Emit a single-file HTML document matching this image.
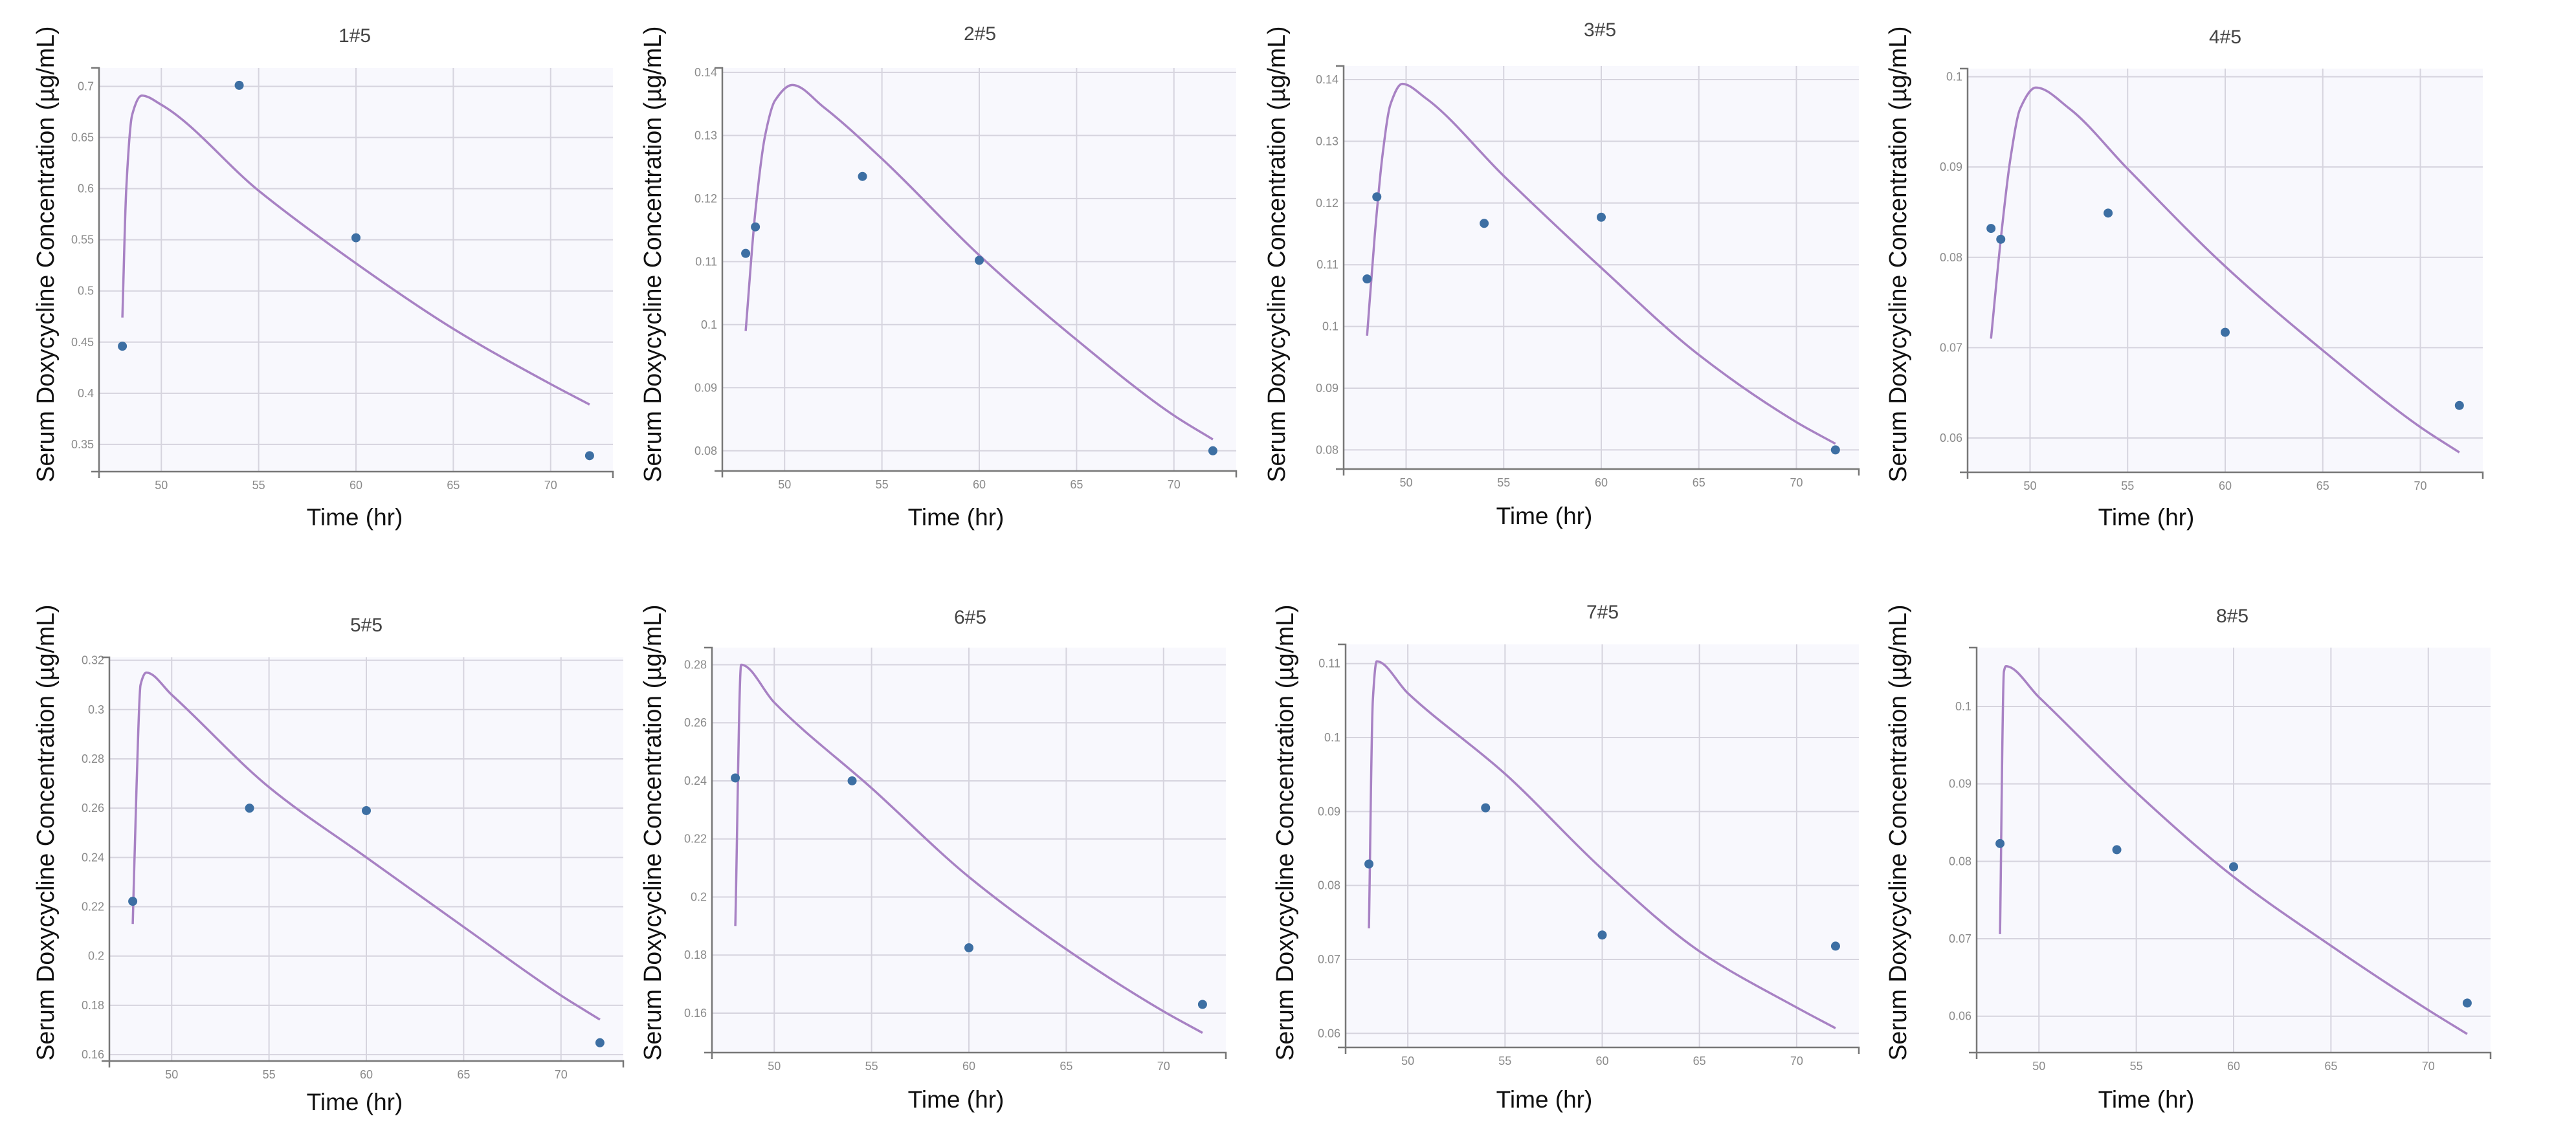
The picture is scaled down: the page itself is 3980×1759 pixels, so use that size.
<!DOCTYPE html>
<html><head><meta charset="utf-8"><style>
html,body{margin:0;padding:0;background:#fff;}
svg{display:block;}
text{font-family:"Liberation Sans",sans-serif;}
</style></head><body>
<svg id="fig" width="3980" height="1759" viewBox="0 0 3980 1759" xmlns="http://www.w3.org/2000/svg"></svg>
<script>
const xTicks = [50, 55, 60, 65, 70];
const xDomain = [46.8, 73.2];

const p1ObsT = [48, 54, 60, 72];
const p1ObsC = [0.446, 0.701, 0.552, 0.339];
const p1CurT = [48, 48.2, 48.5, 49, 50, 55, 60, 65, 70, 72];
const p1CurC = [0.474, 0.6, 0.672, 0.691, 0.682, 0.598, 0.527, 0.463, 0.409, 0.389];
const p1YTicks = [0.35, 0.4, 0.45, 0.5, 0.55, 0.6, 0.65, 0.7];

const p2ObsT = [48, 48.5, 54, 60, 72];
const p2ObsC = [0.1113, 0.1155, 0.1235, 0.1102, 0.08];
const p2CurT = [48, 48.5, 49, 49.5, 50.4, 52, 55, 60, 65, 70, 72];
const p2CurC = [0.099, 0.118, 0.130, 0.1355, 0.138, 0.1345, 0.1263, 0.111, 0.0976, 0.0856, 0.0818];
const p2YTicks = [0.08, 0.09, 0.1, 0.11, 0.12, 0.13, 0.14];

const p3ObsT = [48, 48.5, 54, 60, 72];
const p3ObsC = [0.1077, 0.121, 0.1167, 0.1177, 0.08];
const p3CurT = [48, 48.4, 48.8, 49.2, 49.8, 51, 55, 60, 65, 70, 72];
const p3CurC = [0.0985, 0.115, 0.128, 0.136, 0.1393, 0.137, 0.1244, 0.1095, 0.0954, 0.0845, 0.081];
const p3YTicks = [0.08, 0.09, 0.1, 0.11, 0.12, 0.13, 0.14];

const p4ObsT = [48, 48.5, 54, 60, 72];
const p4ObsC = [0.0832, 0.082, 0.0849, 0.0717, 0.0636];
const p4CurT = [48, 48.5, 49, 49.5, 50.3, 52, 55, 60, 65, 70, 72];
const p4CurC = [0.071, 0.082, 0.091, 0.0965, 0.0988, 0.0965, 0.0898, 0.079, 0.0697, 0.0612, 0.0584];
const p4YTicks = [0.06, 0.07, 0.08, 0.09, 0.1];

const p5ObsT = [48, 54, 60, 72];
const p5ObsC = [0.2222, 0.260, 0.259, 0.1648];
const p5CurT = [48, 48.2, 48.4, 48.7, 50, 55, 60, 65, 70, 72];
const p5CurC = [0.213, 0.27, 0.31, 0.315, 0.306, 0.2685, 0.24, 0.2118, 0.184, 0.1742];
const p5YTicks = [0.16, 0.18, 0.2, 0.22, 0.24, 0.26, 0.28, 0.3, 0.32];

const p6ObsT = [48, 54, 60, 72];
const p6ObsC = [0.241, 0.240, 0.1825, 0.163];
const p6CurT = [48, 48.3, 50, 55, 60, 65, 70, 72];
const p6CurC = [0.190, 0.280, 0.267, 0.2375, 0.2069, 0.182, 0.1606, 0.1532];
const p6YTicks = [0.16, 0.18, 0.2, 0.22, 0.24, 0.26, 0.28];

const p7ObsT = [48, 54, 60, 72];
const p7ObsC = [0.0829, 0.0905, 0.0733, 0.0718];
const p7CurT = [48, 48.2, 48.4, 50, 55, 60, 65, 70, 72];
const p7CurC = [0.0742, 0.105, 0.1103, 0.106, 0.0951, 0.0822, 0.0711, 0.0635, 0.0607];
const p7YTicks = [0.06, 0.07, 0.08, 0.09, 0.1, 0.11];

const p8ObsT = [48, 54, 60, 72];
const p8ObsC = [0.0823, 0.0815, 0.0793, 0.0617];
const p8CurT = [48, 48.2, 48.3, 50, 55, 60, 65, 70, 72];
const p8CurC = [0.0706, 0.1045, 0.1052, 0.1012, 0.0889, 0.078, 0.0691, 0.0608, 0.0577];
const p8YTicks = [0.06, 0.07, 0.08, 0.09, 0.1];

const panelTitles = ["1#5","2#5","3#5","4#5","5#5","6#5","7#5","8#5"];
const panelYDomains = [[0.3234,0.718],[0.0768,0.1407],[0.0769,0.1422],[0.0562,0.1009],[0.1574,0.3212],[0.1464,0.2859],[0.0581,0.1126],[0.0553,0.1076]];

const layouts = [
 {l:153,r:947,t:105,b:729,yl:70,tx:548,ty:65,hx:548,hy:812,lc:393},
 {l:1116,r:1910,t:105,b:728,yl:1008,tx:1514,ty:62,hx:1477,hy:812,lc:393},
 {l:2076,r:2872,t:102,b:725,yl:1972,tx:2472,ty:56,hx:2386,hy:810,lc:393},
 {l:3040,r:3836,t:106,b:730,yl:2932,tx:3438,ty:67,hx:3316,hy:812,lc:393},
 {l:169,r:963,t:1016,b:1640,yl:70,tx:566,ty:976,hx:548,hy:1716,lc:1287},
 {l:1100,r:1894,t:1001,b:1627,yl:1008,tx:1499,ty:964,hx:1477,hy:1712,lc:1287},
 {l:2079,r:2872,t:996,b:1619,yl:1985,tx:2476,ty:956,hx:2386,hy:1712,lc:1287},
 {l:3054,r:3848,t:1001,b:1627,yl:2932,tx:3449,ty:962,hx:3316,hy:1712,lc:1287}
];
const obsT=[p1ObsT,p2ObsT,p3ObsT,p4ObsT,p5ObsT,p6ObsT,p7ObsT,p8ObsT];
const obsC=[p1ObsC,p2ObsC,p3ObsC,p4ObsC,p5ObsC,p6ObsC,p7ObsC,p8ObsC];
const curT=[p1CurT,p2CurT,p3CurT,p4CurT,p5CurT,p6CurT,p7CurT,p8CurT];
const curC=[p1CurC,p2CurC,p3CurC,p4CurC,p5CurC,p6CurC,p7CurC,p8CurC];
const yTicks=[p1YTicks,p2YTicks,p3YTicks,p4YTicks,p5YTicks,p6YTicks,p7YTicks,p8YTicks];

const NS="http://www.w3.org/2000/svg";
const svg=document.getElementById('fig');
function mk(tag,attrs,parent){const e=document.createElementNS(NS,tag);for(const k in attrs)e.setAttribute(k,attrs[k]);(parent||svg).appendChild(e);return e;}

// monotone cubic (Fritsch-Carlson) in data space, returns path via pixel scales
function monoPath(T,C,xs,ys){
  const n=T.length, d=[], m=new Array(n);
  for(let k=0;k<n-1;k++) d.push((C[k+1]-C[k])/(T[k+1]-T[k]));
  m[0]=d[0]; m[n-1]=d[n-2];
  for(let k=1;k<n-1;k++){
    if(d[k-1]*d[k]<=0) m[k]=0;
    else { const w1=2*(T[k+1]-T[k])+(T[k]-T[k-1]), w2=(T[k+1]-T[k])+2*(T[k]-T[k-1]);
      m[k]=(w1+w2)/(w1/d[k-1]+w2/d[k]); }
  }
  let p=`M${xs(T[0])},${ys(C[0])}`;
  for(let k=0;k<n-1;k++){
    const h=T[k+1]-T[k];
    p+=` C${xs(T[k]+h/3)},${ys(C[k]+m[k]*h/3)} ${xs(T[k+1]-h/3)},${ys(C[k+1]-m[k+1]*h/3)} ${xs(T[k+1])},${ys(C[k+1])}`;
  }
  return p;
}

for(let i=0;i<8;i++){
  const L=layouts[i];
  const g=mk('g',{});
  
  
  const xs=v=>L.l+(v-xDomain[0])/(xDomain[1]-xDomain[0])*(L.r-L.l);
  const yd=panelYDomains[i];
  const ys=v=>L.b-(v-yd[0])/(yd[1]-yd[0])*(L.b-L.t);
  const bg=mk('rect',{x:L.l,y:L.t,width:L.r-L.l,height:L.b-L.t,fill:'#f8f8fd'},g);
  
  
  xTicks.forEach(v=>{
    const gl=mk('line',{x1:xs(v),x2:xs(v),y1:L.t,y2:L.b,stroke:'#d6d4de','stroke-width':2},g);
    
    
    const tl=mk('text',{x:xs(v),y:L.b+27,'text-anchor':'middle','font-size':18,fill:'#8a8a8a'},g);
    tl.textContent=v;
    
    
  });
  yTicks[i].forEach(v=>{
    const gl=mk('line',{x1:L.l,x2:L.r,y1:ys(v),y2:ys(v),stroke:'#d6d4de','stroke-width':2},g);
    
    
    const tl=mk('text',{x:L.l-8,y:ys(v)+6,'text-anchor':'end','font-size':18,fill:'#8a8a8a'},g);
    tl.textContent=v;
    
    
  });
  const ax=mk('path',{d:`M${L.l-12},${L.t} H${L.l} V${L.b} M${L.l-12},${L.b} H${L.r} V${L.b+10} M${L.l},${L.b} V${L.b+10}`,stroke:'#777',fill:'none','stroke-width':2.5},g);
  
  
  const cv=mk('path',{d:monoPath(curT[i],curC[i],xs,ys),stroke:'#a882c4',fill:'none','stroke-width':3.5,'stroke-linejoin':'round'},g);
  
  
  obsT[i].forEach((t,k)=>{
    const c=mk('circle',{cx:xs(t),cy:ys(obsC[i][k]),r:7,fill:'#3d6fa3'},g);
    
    
  });
  const tt=mk('text',{x:L.tx,y:L.ty,'text-anchor':'middle','font-size':30,fill:'#444'},g);
  tt.textContent=panelTitles[i];
  
  
  const xt=mk('text',{x:L.hx,y:L.hy,'text-anchor':'middle','font-size':37,fill:'#111'},g);
  xt.textContent='Time (hr)';
  
  
  const yt=mk('text',{x:0,y:0,'text-anchor':'middle','font-size':38,fill:'#111',transform:`translate(${L.yl+13},${L.lc}) rotate(-90)`,textLength:705,lengthAdjust:'spacingAndGlyphs'},g);
  yt.textContent='Serum Doxycycline Concentration (µg/mL)';
  
  
}
</script>
</body></html>
